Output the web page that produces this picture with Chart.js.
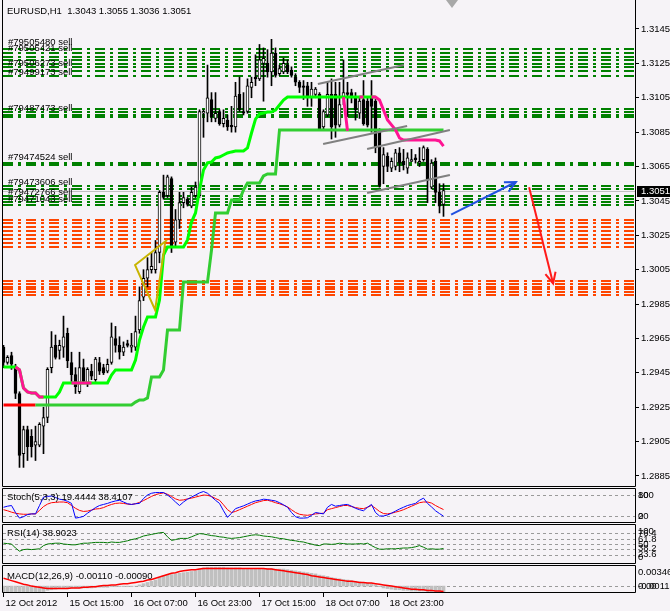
<!DOCTYPE html>
<html>
<head>
<meta charset="utf-8">
<title>EURUSD,H1</title>
<script src="https://cdn.jsdelivr.net/npm/chart.js@4.4.1/dist/chart.umd.min.js"></script>
<style>
body { margin: 0; background: #f6f3f7; }
#wrap { position: relative; width: 670px; height: 611px; background: #f6f3f7; overflow: hidden; }
#wrap canvas { position: absolute; left: 0; }
</style>
</head>
<body>
<div id="wrap">
<canvas id="priceChart" width="670" height="487" style="top:0"></canvas>
<canvas id="stochChart" width="670" height="35" style="top:488px"></canvas>
<canvas id="rsiChart" width="670" height="40" style="top:524px"></canvas>
<canvas id="macdChart" width="670" height="46" style="top:565px"></canvas>
</div>
<script>
// EURUSD H1 candles, one entry per bar
const opens = [1.2960,1.2951,1.2955,1.2948,1.2933,1.2898,1.2912,1.2908,1.2903,1.2903,
1.2914,1.2919,1.2948,1.2961,1.2958,1.2960,1.2968,1.2951,1.2944,1.2934,
1.2948,1.2939,1.2946,1.2941,1.2951,1.2948,1.2946,1.2951,1.2965,1.2961,
1.2957,1.2962,1.2960,1.2960,1.2970,1.2989,1.3000,1.3005,1.3005,1.3015,
1.3050,1.3048,1.3058,1.3021,1.3034,1.3044,1.3046,1.3042,1.3048,1.3048,
1.3096,1.3096,1.3104,1.3093,1.3097,1.3090,1.3092,1.3089,1.3088,1.3107,
1.3097,1.3097,1.3111,1.3117,1.3116,1.3125,1.3125,1.3120,1.3131,1.3119,
1.3120,1.3124,1.3121,1.3117,1.3114,1.3112,1.3112,1.3105,1.3107,1.3107,
1.3088,1.3095,1.3107,1.3107,1.3089,1.3105,1.3108,1.3108,1.3105,1.3096,
1.3104,1.3103,1.3105,1.3103,1.3086,1.3065,1.3071,1.3064,1.3065,1.3073,
1.3068,1.3064,1.3068,1.3070,1.3067,1.3069,1.3075,1.3053,1.3068,1.3050,
1.3043];
const highs = [1.2961,1.2955,1.2957,1.2950,1.2934,1.2914,1.2914,1.2912,1.2914,1.2916,
1.2925,1.2948,1.2969,1.2967,1.2964,1.2978,1.2971,1.2957,1.2948,1.2957,
1.2953,1.2948,1.2950,1.2954,1.2954,1.2950,1.2953,1.2974,1.2972,1.2966,
1.2963,1.2964,1.2968,1.2978,1.2995,1.3005,1.3012,1.3015,1.3022,1.3051,
1.3060,1.3060,1.3059,1.3040,1.3050,1.3050,1.3047,1.3053,1.3056,1.3098,
1.3098,1.3124,1.3108,1.3108,1.3098,1.3098,1.3095,1.3100,1.3114,1.3117,
1.3108,1.3116,1.3117,1.3130,1.3136,1.3134,1.3133,1.3139,1.3134,1.3124,
1.3128,1.3127,1.3123,1.3119,1.3115,1.3115,1.3114,1.3114,1.3111,1.3108,
1.3098,1.3114,1.3116,1.3114,1.3114,1.3127,1.3114,1.3110,1.3108,1.3105,
1.3115,1.3105,1.3115,1.3104,1.3087,1.3076,1.3073,1.3070,1.3075,1.3076,
1.3075,1.3073,1.3075,1.3072,1.3076,1.3077,1.3076,1.3069,1.3070,1.3055,
1.3055];
const lows = [1.2948,1.2950,1.2947,1.2930,1.2890,1.2890,1.2894,1.2896,1.2894,1.2902,
1.2898,1.2916,1.2945,1.2953,1.2953,1.2954,1.2948,1.2940,1.2933,1.2933,
1.2939,1.2937,1.2941,1.2940,1.2944,1.2944,1.2945,1.2950,1.2957,1.2953,
1.2955,1.2960,1.2957,1.2958,1.2968,1.2987,1.2995,1.3003,1.3003,1.3009,
1.3046,1.3047,1.3015,1.3018,1.3029,1.3041,1.3042,1.3041,1.3047,1.3047,
1.3082,1.3091,1.3091,1.3091,1.3089,1.3088,1.3086,1.3085,1.3085,1.3097,
1.3095,1.3096,1.3105,1.3112,1.3115,1.3103,1.3117,1.3112,1.3117,1.3118,
1.3119,1.3119,1.3117,1.3112,1.3108,1.3104,1.3100,1.3100,1.3105,1.3086,
1.3087,1.3094,1.3081,1.3082,1.3088,1.3101,1.3094,1.3102,1.3092,1.3093,
1.3089,1.3088,1.3085,1.3073,1.3053,1.3055,1.3062,1.3062,1.3063,1.3062,
1.3063,1.3061,1.3068,1.3067,1.3065,1.3068,1.3044,1.3052,1.3044,1.3038,
1.3036];
const closes = [1.2951,1.2954,1.2950,1.2933,1.2897,1.2912,1.2902,1.2902,1.2905,1.2915,
1.2919,1.2947,1.2960,1.2954,1.2961,1.2966,1.2952,1.2944,1.2937,1.2948,
1.2940,1.2947,1.2943,1.2953,1.2946,1.2945,1.2950,1.2966,1.2961,1.2957,
1.2960,1.2961,1.2961,1.2969,1.2987,1.3000,1.3005,1.3007,1.3015,1.3050,
1.3047,1.3059,1.3019,1.3034,1.3044,1.3047,1.3043,1.3050,1.3053,1.3097,
1.3097,1.3105,1.3094,1.3096,1.3090,1.3093,1.3088,1.3088,1.3106,1.3098,
1.3096,1.3112,1.3114,1.3116,1.3127,1.3128,1.3120,1.3131,1.3118,1.3122,
1.3125,1.3120,1.3118,1.3114,1.3111,1.3111,1.3106,1.3110,1.3110,1.3087,
1.3097,1.3107,1.3088,1.3089,1.3101,1.3108,1.3107,1.3105,1.3098,1.3103,
1.3090,1.3089,1.3100,1.3076,1.3054,1.3072,1.3065,1.3068,1.3073,1.3067,
1.3066,1.3070,1.3069,1.3069,1.3068,1.3076,1.3057,1.3067,1.3050,1.3042,
1.3051];

// trailing lines on the price window (green / pink fast line, red / lime slow line)
const fastLine = [1.29484,1.29484,1.29484,1.29484,1.29467,1.29362,1.29339,1.29333,1.29333,1.29309,
1.29309,1.29309,1.29309,1.29309,1.29339,1.29391,1.29391,1.29391,1.29391,1.29391,
1.29391,1.29391,1.29391,1.29391,1.29391,1.29391,1.29391,1.29437,1.29467,1.29467,
1.29467,1.29467,1.29467,1.29525,1.29641,1.29717,1.29775,1.29775,1.29775,1.29874,
1.30135,1.30182,1.30182,1.30182,1.30182,1.30182,1.30223,1.30327,1.30380,1.30514,
1.30630,1.30671,1.30676,1.30700,1.30705,1.30717,1.30729,1.30735,1.30740,1.30740,
1.30740,1.30758,1.30845,1.30926,1.30956,1.30961,1.30967,1.30967,1.30979,1.31008,
1.31037,1.31054,1.31054,1.31054,1.31054,1.31054,1.31054,1.31054,1.31054,1.31054,
1.31054,1.31054,1.31054,1.31054,1.31054,1.31054,1.31054,1.31054,1.31054,1.31054,
1.31054,1.31054,1.31054,1.31054,null,null,null,null,null,null,
null,null,null,null,null,null,null,null,null,null,
null];
const fastAlt = [null,null,null,1.29484,1.29467,1.29362,1.29339,1.29333,1.29333,1.29309,
1.29309,null,null,null,null,null,null,1.29391,1.29391,1.29391,
1.29391,1.29391,1.29391,null,null,null,null,null,null,null,
null,null,null,null,null,null,null,null,null,null,
null,null,null,null,null,null,null,null,null,null,
null,null,null,null,null,null,null,null,null,null,
null,null,null,null,null,null,null,null,null,null,
null,null,null,null,null,null,null,null,null,null,
null,null,null,null,null,1.31054,1.30857,null,null,1.31054,
1.31054,null,1.31054,1.31054,1.31037,1.30979,1.30921,1.30892,1.30863,1.30816,
1.30804,1.30804,1.30804,1.30804,1.30804,1.30804,1.30804,1.30804,1.30804,1.30799,
1.30769];
const slowLine = [1.29263,1.29263,1.29263,1.29263,1.29263,1.29263,1.29263,1.29263,1.29263,1.29263,
1.29263,1.29263,1.29263,1.29263,1.29263,1.29263,1.29263,1.29263,1.29263,1.29263,
1.29263,1.29263,1.29263,1.29263,1.29263,1.29263,1.29263,1.29263,1.29263,1.29263,
1.29263,1.29263,1.29263,1.29280,1.29292,1.29292,1.29304,1.29426,1.29426,1.29426,
1.29467,1.29699,1.29699,1.29699,1.29699,1.29978,1.29978,1.29978,1.29978,1.29978,
1.29978,1.29978,1.30164,1.30380,1.30380,1.30380,1.30380,1.30455,1.30455,1.30455,
1.30514,1.30554,1.30554,1.30554,1.30554,1.30595,1.30607,1.30607,1.30607,1.30863,
1.30863,1.30863,1.30863,1.30863,1.30863,1.30863,1.30863,1.30863,1.30863,1.30863,
1.30863,1.30863,1.30863,1.30863,1.30863,1.30863,1.30863,1.30863,1.30863,1.30863,
1.30863,1.30863,1.30863,1.30863,1.30863,1.30863,1.30863,1.30863,1.30863,1.30863,
1.30863,1.30863,1.30863,1.30863,1.30863,1.30863,1.30863,1.30863,1.30863,1.30863,
1.30863];
const slowRedEnd = 8;

// drawn objects: zigzag, channel lines, forecast arrows ([bar, price] pairs)
const zigzag = [[40.9, 1.30223], [32.9, 1.30077], [37.9, 1.29816], [40.4, 1.30205]];
const channels = [
  [[78.6, 1.31130], [100.1, 1.31241]],
  [[79.9, 1.30781], [100.9, 1.30886]],
  [[90.9, 1.30752], [111.6, 1.30863]],
  [[90.9, 1.30496], [111.6, 1.30601]]
];
const upArrow = [[111.9, 1.30370], [128.1, 1.30560]];
const downArrow = [[131.4, 1.30530], [137.4, 1.29970]];

// pending order lines and their tags
const orderLevels = [1.31334,1.31310,1.31287,1.31270,1.31246,1.31229,1.31206,1.31177,
1.30985,1.30967,1.30950,1.30938,1.30671,1.30659,1.30537,1.30519,1.30479,1.30461,1.30444,1.30426];
const stopLevels = [1.30339,1.30322,1.30298,1.30275,1.30252,1.30229,1.30205,1.30182,
1.29984,1.29967,1.29949,1.29938,1.29920,1.29903];
const orderTags = ['#79505480 sell', '#79505421 sell', '#79506273 sell', '#79499173 sell', '#79487473 sell',
'#79474524 sell', '#79473606 sell', '#79472766 sell', '#79471043 sell'];
const orderTagPrices = [1.31363, 1.31328, 1.31241, 1.31188, 1.30979, 1.30691, 1.30551, 1.30490, 1.30452];

// axes
const priceTicks = [1.2885,1.2905,1.2925,1.2945,1.2965,1.2985,1.3005,1.3025,1.3045,1.3065,1.3085,1.3105,1.3125,1.3145];
const priceMin = 1.287918, priceMax = 1.316012;
const timeTickBars = [0, 16, 32, 48, 64, 80, 96];
const timeLabels = ['12 Oct 2012', '15 Oct 15:00', '16 Oct 07:00', '16 Oct 23:00', '17 Oct 15:00', '18 Oct 07:00', '18 Oct 23:00'];

// oscillators
const stochMain = [45,48,50,30,14,18,24,26,26,50,
74,76,77,73,68,66,62,56,14,16,
19,28,36,44,50,53,56,60,63,65,
60,55,53,55,56,70,80,85,87,87,
87,80,71,60,50,60,68,74,80,86,
90,85,75,65,56,35,16,28,41,45,
49,54,59,63,65,68,67,65,63,58,
52,45,30,18,14,14,15,22,30,28,
26,45,53,48,50,52,53,48,42,38,
35,45,53,30,20,20,23,28,34,40,
45,50,53,56,65,71,56,46,35,27,
19.4444];
const stochSignal = [38,35,31,28,26,25,25,26,26,36,
47,54,58,59,60,60,58,50,42,36,
33,34,37,40,41,44,49,53,56,57,
56,54,53,55,59,64,70,76,81,84,
86,82,76,69,65,66,69,71,74,77,
80,79,76,70,65,52,38,30,33,38,
43,48,53,58,61,64,65,62,58,55,
51,46,38,30,25,23,22,24,26,27,
28,38,41,44,47,50,50,47,44,42,
41,45,50,42,33,27,26,28,31,34,
38,43,48,53,58,60,60,57,50,44,
38.4107];
const stochLevels = [20, 80];
const rsiValues = [52,51,50,40,32,36,37,36,37,38,
46,50,51,52,52,50,49,48,48,50,
52,52,53,54,54,54,53,55,54,54,
56,58,61,63,66,70,72,74,76,78,
79,68,59,61,64,64,64,68,72,76,
75,73,71,70,68,67,65,64,65,66,
68,70,72,73,72,70,69,68,66,64,
63,61,59,58,56,55,52,50,47,46,
50,50,49,50,52,51,50,50,50,51,
50,52,46,41,37,37,38,38,38,39,
40,40,41,43,46,42,37,38,37,37,
38.9023];
const rsiLevels = [23.6, 38.2, 50, 61.8, 76.4];
const macdMain = [-0.0011,-0.0011,-0.0010,-0.0010,-0.0011,-0.0011,-0.0011,-0.0011,-0.0011,-0.0010,
-0.0009,-0.0007,-0.0006,-0.0005,-0.0004,-0.0003,-0.0003,-0.0003,-0.0003,-0.0003,
-0.0003,-0.0003,-0.0003,-0.0002,-0.0002,-0.0002,-0.0002,-0.0001,-0.0001,-0.0001,
-0.0001,-0.0001,-0.0001,0.0000,0.0002,0.0004,0.0006,0.0008,0.0010,0.0014,
0.0017,0.0019,0.0019,0.0020,0.0021,0.0022,0.0023,0.0024,0.0025,0.0028,
0.0030,0.0031,0.0031,0.0031,0.0031,0.0031,0.0030,0.0030,0.0030,0.0030,
0.0029,0.0029,0.0029,0.0029,0.0029,0.0029,0.0029,0.0029,0.0028,0.0028,
0.0028,0.0027,0.0026,0.0025,0.0024,0.0023,0.0022,0.0021,0.0020,0.0018,
0.0017,0.0016,0.0014,0.0013,0.0012,0.0011,0.0010,0.0009,0.0008,0.0007,
0.0006,0.0005,0.0004,0.0002,-0.0001,-0.0003,-0.0004,-0.0005,-0.0006,-0.0006,
-0.0007,-0.0007,-0.0008,-0.0008,-0.0008,-0.0008,-0.0009,-0.0009,-0.0010,-0.0010,
-0.0011];
const macdSignal = [0.0013,0.0011,0.0009,0.0007,0.0005,0.0003,0.0002,0.0000,-0.0001,-0.0002,
-0.0003,-0.0004,-0.0004,-0.0004,-0.0004,-0.0004,-0.0004,-0.0003,-0.0003,-0.0003,
-0.0002,-0.0002,-0.0001,-0.0001,0.0000,0.0001,0.0001,0.0002,0.0002,0.0003,
0.0004,0.0004,0.0005,0.0006,0.0007,0.0008,0.0010,0.0011,0.0013,0.0015,
0.0017,0.0019,0.0021,0.0022,0.0024,0.0025,0.0026,0.0027,0.0027,0.0028,
0.0029,0.0029,0.0029,0.0029,0.0029,0.0029,0.0029,0.0029,0.0029,0.0029,
0.0029,0.0029,0.0029,0.0029,0.0029,0.0029,0.0028,0.0028,0.0027,0.0026,
0.0025,0.0024,0.0023,0.0022,0.0021,0.0020,0.0019,0.0017,0.0016,0.0015,
0.0014,0.0013,0.0012,0.0011,0.0010,0.0009,0.0008,0.0008,0.0007,0.0006,
0.0006,0.0005,0.0005,0.0004,0.0003,0.0002,0.0001,0.0000,-0.0001,-0.0002,
-0.0003,-0.0004,-0.0005,-0.0005,-0.0006,-0.0006,-0.0007,-0.0007,-0.0008,-0.0008,
-0.0009];
const macdMin = -0.00113, macdMax = 0.00346;

const FONT = { family: 'Liberation Sans', size: 9.5 };
const FONT_CSS = '9.5px "Liberation Sans"';
const bars = closes.map((c, i) => i);
const last = closes.length - 1;
const toXY = pts => pts.map(p => ({ x: p[0], y: p[1] }));

// no extra chart-area padding for tick labels, every window lines up exactly
const noLabelPadding = s => { s.paddingTop = 0; s.paddingBottom = 0; s.paddingLeft = 0; s.paddingRight = 0; };

function xAxis(show) {
    return {
        type: 'linear', min: -0.125, max: 157.875, offset: false, display: show,
        afterBuildTicks: s => { s.ticks = timeTickBars.map(v => ({ value: v })); },
        afterFit: s => { s.height = show ? 18 : 0; noLabelPadding(s); },
        ticks: { callback: (v, i) => timeLabels[i], align: 'start', labelOffset: 2, maxRotation: 0, autoSkip: false, color: '#000', font: FONT, padding: 1 },
        grid: { drawOnChartArea: false, drawTicks: true, tickLength: 4, color: '#000', offset: false },
        border: { display: false }
    };
}

function yAxis(min, max, ticks, fmt, tickMarks) {
    return {
        position: 'right', min: min, max: max,
        afterBuildTicks: s => { s.ticks = ticks.map(v => ({ value: v })); },
        afterFit: s => { s.width = 35; noLabelPadding(s); },
        ticks: { callback: fmt, color: '#000', font: FONT, padding: tickMarks ? 2 : 3, autoSkip: false },
        grid: tickMarks ? { drawOnChartArea: false, drawTicks: true, tickLength: 4, color: '#000' } : { display: false, drawTicks: false },
        border: { display: false }
    };
}

function baseOptions(y, showX, pad, panel) {
    return {
        responsive: false, animation: false, events: [],
        layout: { padding: pad },
        elements: { point: { radius: 0 }, line: { tension: 0 } },
        plugins: { legend: { display: false }, tooltip: { enabled: false }, panel: panel },
        scales: { x: xAxis(showX), y: y }
    };
}

// frame, title, level lines and edge labels of every window
const panel = {
    id: 'panel',
    beforeDatasetsDraw(chart, args, opts) {
        const { ctx, chartArea: a, scales: { y } } = chart;
        ctx.save();
        ctx.strokeStyle = '#9a9a9a';
        ctx.lineWidth = 1;
        ctx.setLineDash([3, 3]);
        (opts.levels || []).forEach(v => {
            const py = Math.round(y.getPixelForValue(v)) + 0.5;
            ctx.beginPath(); ctx.moveTo(a.left, py); ctx.lineTo(a.right, py); ctx.stroke();
        });
        ctx.restore();
    },
    afterDraw(chart, args, opts) {
        const { ctx, chartArea: a } = chart;
        ctx.save();
        ctx.strokeStyle = '#000';
        ctx.lineWidth = 1;
        ctx.beginPath();
        if (opts.openTop) {
            ctx.moveTo(a.left - 0.5, 0); ctx.lineTo(a.left - 0.5, a.bottom + 0.5);
            ctx.lineTo(a.right + 0.5, a.bottom + 0.5); ctx.lineTo(a.right + 0.5, 0);
        } else {
            ctx.rect(a.left - 0.5, a.top + 0.5, a.right - a.left + 1, a.bottom - a.top - 1);
        }
        ctx.stroke();
        ctx.fillStyle = '#000';
        ctx.font = FONT_CSS;
        ctx.textBaseline = 'middle';
        ctx.fillText(opts.title, a.left + 4, a.top + opts.titleY);
        if (opts.edge) {
            ctx.fillText(opts.edge[0], a.right + 3, a.top + 7);
            ctx.fillText(opts.edge[1], a.right + 3, a.bottom - 7);
        }
        ctx.restore();
    }
};

// order lines, bid line, tags, arrow heads and price marker of the main window
const priceDecor = {
    id: 'priceDecor',
    beforeDatasetsDraw(chart) {
        const { ctx, chartArea: a, scales: { y } } = chart;
        ctx.save();
        ctx.beginPath();
        ctx.rect(a.left, a.top, a.right - a.left, a.bottom - a.top);
        ctx.clip();
        ctx.lineWidth = 2;
        ctx.setLineDash([10, 5, 3, 5]);
        [[orderLevels, '#008000'], [stopLevels, '#ff4500']].forEach(([levels, color]) => {
            ctx.strokeStyle = color;
            levels.forEach(p => {
                const py = Math.round(y.getPixelForValue(p));
                ctx.beginPath(); ctx.moveTo(a.left, py); ctx.lineTo(a.right, py); ctx.stroke();
            });
        });
        ctx.setLineDash([]);
        ctx.lineWidth = 1;
        ctx.strokeStyle = '#c0c0c0';
        const cy = Math.round(y.getPixelForValue(closes[last])) + 0.5;
        ctx.beginPath(); ctx.moveTo(a.left, cy); ctx.lineTo(a.right, cy); ctx.stroke();
        ctx.fillStyle = '#000';
        ctx.font = FONT_CSS;
        ctx.textBaseline = 'alphabetic';
        orderTags.forEach((t, i) => ctx.fillText(t, a.left + 5, Math.round(y.getPixelForValue(orderTagPrices[i])) + 1));
        ctx.restore();
    },
    afterDatasetsDraw(chart) {
        const ctx = chart.ctx;
        chart.data.datasets.forEach((ds, i) => {
            if (!ds.arrow) return;
            const pts = chart.getDatasetMeta(i).data;
            const p1 = pts[pts.length - 1], p0 = pts[pts.length - 2];
            const ang = Math.atan2(p1.y - p0.y, p1.x - p0.x);
            ctx.save();
            ctx.strokeStyle = ds.borderColor;
            ctx.lineWidth = 2;
            ctx.beginPath();
            ctx.moveTo(p1.x - 12 * Math.cos(ang - 0.45), p1.y - 12 * Math.sin(ang - 0.45));
            ctx.lineTo(p1.x, p1.y);
            ctx.lineTo(p1.x - 12 * Math.cos(ang + 0.45), p1.y - 12 * Math.sin(ang + 0.45));
            ctx.stroke();
            ctx.restore();
        });
    },
    afterDraw(chart) {
        const { ctx, chartArea: a, scales: { x, y } } = chart;
        const cy = Math.round(y.getPixelForValue(closes[last]));
        ctx.save();
        ctx.fillStyle = '#000';
        ctx.fillRect(a.right + 2, cy - 5, 33, 11);
        ctx.fillStyle = '#fff';
        ctx.font = FONT_CSS;
        ctx.textBaseline = 'middle';
        ctx.fillText(closes[last].toFixed(4), a.right + 6, cy + 0.5);
        // chart shift marker
        const sx = Math.round(x.getPixelForValue(last + 2));
        ctx.fillStyle = '#a8a8a8';
        ctx.beginPath(); ctx.moveTo(sx - 6, 0); ctx.lineTo(sx + 6, 0); ctx.lineTo(sx, 8); ctx.closePath(); ctx.fill();
        ctx.restore();
    }
};

const lineDs = (data, color, width, order, extra) => Object.assign({ type: 'line', data: data, borderColor: color, borderWidth: width, order: order, spanGaps: false }, extra || {});

new Chart(document.getElementById('priceChart'), {
    type: 'bar',
    data: {
        labels: bars,
        datasets: [
            lineDs(toXY(upArrow), '#2050e0', 2, 0, { arrow: true }),
            lineDs(toXY(downArrow), '#ff1a1a', 2, 0, { arrow: true }),
            ...channels.map(c => lineDs(toXY(c), '#808080', 2, 1)),
            lineDs(toXY(zigzag), '#c8b400', 2, 1),
            lineDs(fastAlt, '#ff1493', 3, 2),
            lineDs(fastLine, '#00ff00', 3, 3),
            lineDs(slowLine, '#32cd32', 3, 4, { segment: { borderColor: c => c.p1DataIndex <= slowRedEnd ? '#ff0000' : '#32cd32' } }),
            {
                data: opens.map((o, i) => [o, closes[i]]),
                backgroundColor: c => closes[c.dataIndex] >= opens[c.dataIndex] ? '#ffffff' : '#000000',
                borderColor: '#000', borderWidth: 1, borderSkipped: false,
                barThickness: 3, minBarLength: 1, grouped: false, order: 5
            },
            {
                data: lows.map((l, i) => [l, highs[i]]),
                backgroundColor: '#000', borderWidth: 0,
                barThickness: 1, grouped: false, order: 6
            }
        ]
    },
    options: baseOptions(yAxis(priceMin, priceMax, priceTicks, v => v.toFixed(4), true), false,
        { left: 3, top: 3, right: 0, bottom: 1 },
        { openTop: true, titleY: 8, title: 'EURUSD,H1  ' + [opens[last], highs[last], lows[last], closes[last]].map(v => v.toFixed(4)).join(' ') }),
    plugins: [priceDecor, panel]
});

new Chart(document.getElementById('stochChart'), {
    type: 'line',
    data: {
        labels: bars,
        datasets: [
            lineDs(stochMain, '#0000ff', 1, 0),
            lineDs(stochSignal, '#ff0000', 1, 1)
        ]
    },
    options: baseOptions(yAxis(0, 100, stochLevels, v => String(v), false), false,
        { left: 3, top: 0, right: 0, bottom: 0 },
        { levels: stochLevels, edge: ['100', '0'], titleY: 9,
          title: 'Stoch(5,3,3) ' + stochMain[last].toFixed(4) + ' ' + stochSignal[last].toFixed(4) }),
    plugins: [panel]
});

new Chart(document.getElementById('rsiChart'), {
    type: 'line',
    data: { labels: bars, datasets: [lineDs(rsiValues, '#007800', 1, 0)] },
    options: baseOptions(yAxis(0, 100, rsiLevels, v => String(v), false), false,
        { left: 3, top: 0, right: 0, bottom: 0 },
        { levels: rsiLevels, edge: ['100', '0'], titleY: 9, title: 'RSI(14) ' + rsiValues[last].toFixed(4) }),
    plugins: [panel]
});

new Chart(document.getElementById('macdChart'), {
    type: 'bar',
    data: {
        labels: bars,
        datasets: [
            lineDs(macdSignal, '#ff0000', 1.5, 0),
            { data: macdMain, backgroundColor: '#c0c0c0', barThickness: 3, grouped: false, order: 1 }
        ]
    },
    options: baseOptions(yAxis(macdMin, macdMax, [0], v => v.toFixed(2), false), true,
        { left: 3, top: 0, right: 0, bottom: 0 },
        { levels: [0], edge: [macdMax.toFixed(5), macdMin.toFixed(5)], titleY: 11,
          title: 'MACD(12,26,9) ' + macdMain[last].toFixed(5) + ' ' + macdSignal[last].toFixed(5) }),
    plugins: [panel]
});
</script>
